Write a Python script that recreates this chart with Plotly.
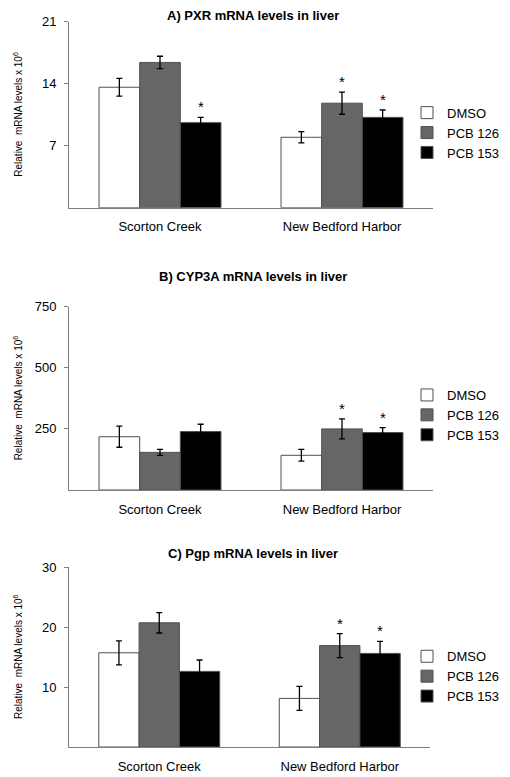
import plotly.graph_objects as go

# ---------------- data ----------------
sites = ["Scorton Creek", "New Bedford Harbor"]
treatments = ["DMSO", "PCB 126", "PCB 153"]
bar_colors = ["#ffffff", "#666666", "#000000"]

# Panel A: PXR
pxr_dmso = [13.6, 7.95]
pxr_dmso_err = [1.0, 0.63]
pxr_pcb126 = [16.4, 11.8]
pxr_pcb126_err = [0.7, 1.25]
pxr_pcb153 = [9.6, 10.2]
pxr_pcb153_err = [0.6, 0.83]
pxr_sig = [[False, False], [False, True], [True, True]]
pxr_ticks = [7, 14, 21]

# Panel B: CYP3A
cyp_dmso = [218, 142]
cyp_dmso_err = [43, 24]
cyp_pcb126 = [154, 250]
cyp_pcb126_err = [12, 41]
cyp_pcb153 = [239, 235]
cyp_pcb153_err = [30, 20]
cyp_sig = [[False, False], [False, True], [False, True]]
cyp_ticks = [250, 500, 750]

# Panel C: Pgp
pgp_dmso = [15.7, 8.1]
pgp_dmso_err = [2.0, 2.0]
pgp_pcb126 = [20.7, 16.9]
pgp_pcb126_err = [1.7, 2.0]
pgp_pcb153 = [12.6, 15.6]
pgp_pcb153_err = [1.9, 2.0]
pgp_sig = [[False, False], [False, True], [False, True]]
pgp_ticks = [10, 20, 30]

titles = ["A) PXR mRNA levels in liver",
          "B) CYP3A mRNA levels in liver",
          "C) Pgp mRNA levels in liver"]
ytitle = "Relative\u00a0 mRNA levels x 10<sup>6</sup>"

panels = [
    dict(means=[pxr_dmso, pxr_pcb126, pxr_pcb153],
         errs=[pxr_dmso_err, pxr_pcb126_err, pxr_pcb153_err],
         sig=pxr_sig, ticks=pxr_ticks, title=titles[0]),
    dict(means=[cyp_dmso, cyp_pcb126, cyp_pcb153],
         errs=[cyp_dmso_err, cyp_pcb126_err, cyp_pcb153_err],
         sig=cyp_sig, ticks=cyp_ticks, title=titles[1]),
    dict(means=[pgp_dmso, pgp_pcb126, pgp_pcb153],
         errs=[pgp_dmso_err, pgp_pcb126_err, pgp_pcb153_err],
         sig=pgp_sig, ticks=pgp_ticks, title=titles[2]),
]

# ---------------- layout geometry ----------------
W, H = 510, 777
OFF = 8  # page body margin: figure is drawn 8px right/down in the page
FONT = "Arial, Liberation Sans, sans-serif"
BARGAP = 0.33
x_px = [(69, 433), (69, 433), (69, 430)]
x_domains = [((a - OFF) / W, (b - OFF) / W) for a, b in x_px]
y_px = [(21.7, 207.7), (306.7, 490.0), (567.0, 747.0)]  # top, bottom
y_domains = [(1 - (b - OFF) / H, 1 - (t - OFF) / H) for t, b in y_px]
title_y_px = [15, 276.7, 553.7]
legend_center_px = [132.7, 415.0, 676.3]
legend_text_x = 447

fig = go.Figure()
annotations = []
layout_axes = {}

for p, panel in enumerate(panels):
    sfx = "" if p == 0 else str(p + 1)
    xa, ya = "x" + sfx, "y" + sfx
    leg = "legend" + sfx
    for i, t in enumerate(treatments):
        fig.add_trace(go.Bar(
            x=sites, y=panel["means"][i], name=t,
            xaxis=xa, yaxis=ya, legend=leg,
            marker=dict(color=bar_colors[i], line=dict(color="#505050", width=1)),
            error_y=dict(type="data", array=panel["errs"][i], color="#000000",
                         thickness=1.3, width=3),
        ))
    # significance stars
    plot_w = (x_domains[p][1] - x_domains[p][0]) * W
    bar_w = plot_w / len(sites) * (1 - BARGAP) / len(treatments)
    for i in range(len(treatments)):
        for j, s in enumerate(sites):
            if panel["sig"][i][j]:
                annotations.append(dict(
                    x=s, y=panel["means"][i][j] + panel["errs"][i][j],
                    xref=xa, yref=ya, text="*", showarrow=False,
                    xshift=(i - 1) * bar_w, yanchor="bottom",
                    font=dict(family=FONT, size=15, color="#000000")))
    # panel title
    annotations.append(dict(
        x=(253 - OFF) / W, y=1 - (title_y_px[p] - OFF) / H,
        xref="paper", yref="paper",
        text="<b>" + panel["title"] + "</b>", showarrow=False,
        xanchor="center", yanchor="middle",
        font=dict(family=FONT, size=13, color="#000000")))
    # y axis title
    annotations.append(dict(
        x=(18 - OFF) / W, y=1 - ((y_px[p][0] + y_px[p][1]) / 2 - OFF) / H,
        xref="paper", yref="paper", text=ytitle, showarrow=False,
        textangle=-90, xanchor="center", yanchor="middle",
        font=dict(family=FONT, size=10, color="#000000")))

    layout_axes["xaxis" + sfx] = dict(
        domain=list(x_domains[p]), anchor=ya, showline=True,
        linecolor="#7f7f7f", linewidth=1, ticks="outside", ticklen=7,
        tickcolor="rgba(0,0,0,0)", showgrid=False, zeroline=False,
        tickfont=dict(family=FONT, size=13, color="#000000"), fixedrange=True)
    layout_axes["yaxis" + sfx] = dict(
        domain=list(y_domains[p]), anchor=xa, range=[0, panel["ticks"][-1]],
        tickvals=panel["ticks"], showline=True, linecolor="#7f7f7f",
        linewidth=1, ticks="outside", ticklen=4, tickcolor="#7f7f7f",
        ticklabelstandoff=5, showgrid=False, zeroline=False,
        tickfont=dict(family=FONT, size=13, color="#000000"), fixedrange=True)
    layout_axes[leg] = dict(
        x=(legend_text_x - 40 - OFF) / W, xanchor="left",
        y=1 - (legend_center_px[p] - OFF) / H,
        yanchor="middle", bgcolor="rgba(0,0,0,0)",
        font=dict(family=FONT, size=13, color="#000000"),
        tracegroupgap=0, borderwidth=0)

fig.update_layout(
    width=W, height=H, margin=dict(l=0, r=0, t=0, b=0, autoexpand=False),
    paper_bgcolor="#ffffff", plot_bgcolor="#ffffff",
    barmode="group", bargap=BARGAP, bargroupgap=0,
    annotations=annotations, showlegend=True,
    **layout_axes,
)

fig.write_html("out.html")
